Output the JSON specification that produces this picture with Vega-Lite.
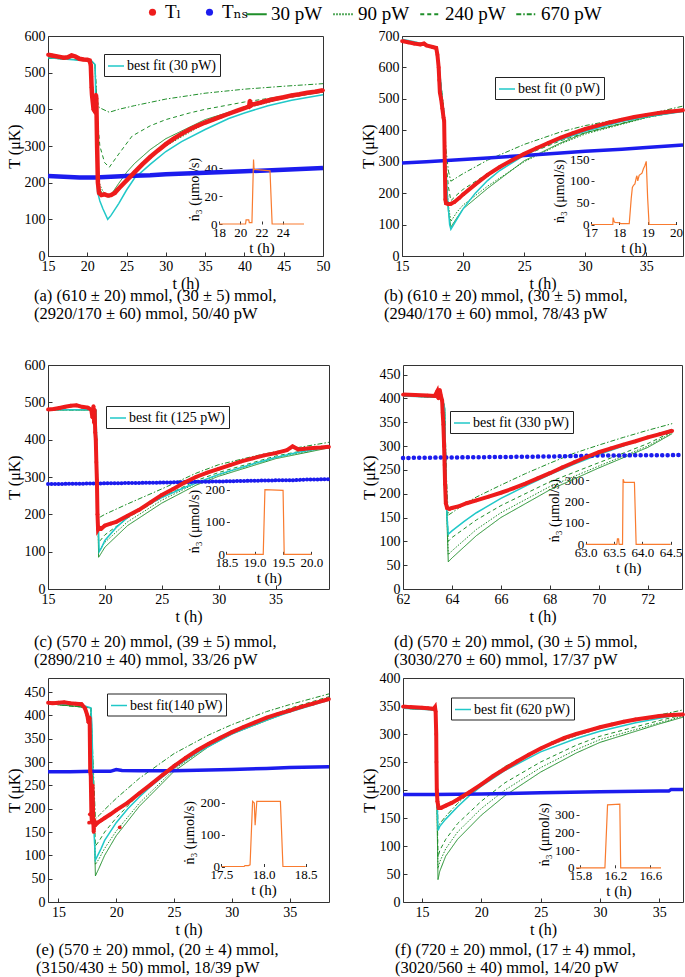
{
"$schema": "https://vega.github.io/schema/vega-lite/v6.json",
"padding": {"left": 5, "top": 2, "right": 0, "bottom": 0},
"config": {
 "font": "Liberation Serif, DejaVu Serif, serif",
 "view": {"stroke": "#333", "strokeWidth": 1},
 "axis": {"grid": false, "domain": false, "tickSize": -4, "tickColor": "#333", "labelPadding": 7, "labelFontSize": 14, "labelColor": "black", "labelFlush": false, "labelOverlap": false, "titleFontSize": 16, "titleFontWeight": "normal", "titleColor": "black", "titlePadding": 2, "labelFont": "Liberation Serif, DejaVu Serif, serif", "titleFont": "Liberation Serif, DejaVu Serif, serif"},
 "title": {"font": "Liberation Serif, DejaVu Serif, serif", "fontSize": 16.5, "fontWeight": "normal", "color": "black", "lineHeight": 18},
 "legend": {"labelFont": "Liberation Serif, DejaVu Serif, serif"}
},
"datasets": {
"a": [
{"s":"L","t":15,"T":549},{"s":"L","t":15.5,"T":547},{"s":"L","t":16,"T":545},{"s":"L","t":16.5,"T":543},{"s":"L","t":17,"T":541},{"s":"L","t":17.5,"T":542},{"s":"L","t":18,"T":547},{"s":"L","t":18.5,"T":544},{"s":"L","t":19,"T":538},{"s":"L","t":19.5,"T":536},{"s":"L","t":20,"T":535},{"s":"L","t":20.3,"T":533},{"s":"L","t":20.45,"T":520},{"s":"L","t":20.5,"T":490},{"s":"L","t":20.55,"T":460},{"s":"L","t":20.6,"T":440},{"s":"L","t":20.7,"T":420},{"s":"L","t":20.8,"T":400},{"s":"L","t":20.95,"T":395},{"s":"L","t":21.05,"T":400},{"s":"L","t":21.1,"T":440},{"s":"L","t":21.15,"T":430},{"s":"L","t":21.25,"T":300},{"s":"L","t":21.35,"T":200},{"s":"L","t":21.5,"T":172},{"s":"L","t":21.8,"T":166},{"s":"L","t":22.2,"T":168},{"s":"L","t":22.6,"T":165},{"s":"L","t":23,"T":166},{"s":"L","t":23.5,"T":172},{"s":"L","t":24,"T":184},{"s":"L","t":25,"T":206},{"s":"L","t":26,"T":228},{"s":"L","t":27,"T":250},{"s":"L","t":28,"T":270},{"s":"L","t":29,"T":288},{"s":"L","t":30,"T":305},{"s":"L","t":31,"T":320},{"s":"L","t":32,"T":333},{"s":"L","t":33,"T":345},{"s":"L","t":34,"T":355},{"s":"L","t":35,"T":364},{"s":"L","t":36,"T":372},{"s":"L","t":37,"T":380},{"s":"L","t":38,"T":388},{"s":"L","t":39,"T":396},{"s":"L","t":40,"T":403},{"s":"L","t":40.6,"T":408},{"s":"L","t":40.7,"T":424},{"s":"L","t":40.8,"T":410},{"s":"L","t":41,"T":413},{"s":"L","t":42,"T":418},{"s":"L","t":43,"T":424},{"s":"L","t":44,"T":429},{"s":"L","t":45,"T":433},{"s":"L","t":46,"T":438},{"s":"L","t":47,"T":441},{"s":"L","t":48,"T":445},{"s":"L","t":49,"T":448},{"s":"L","t":50,"T":452},
{"s":"NS","t":15,"T":218},{"s":"NS","t":17,"T":216},{"s":"NS","t":19,"T":214},{"s":"NS","t":21,"T":214},{"s":"NS","t":23,"T":216},{"s":"NS","t":25,"T":218},{"s":"NS","t":28,"T":220},{"s":"NS","t":30,"T":223},{"s":"NS","t":35,"T":227},{"s":"NS","t":40,"T":231},{"s":"NS","t":45,"T":235},{"s":"NS","t":50,"T":240},
{"s":"fit","t":15,"T":541},{"s":"fit","t":17,"T":537},{"s":"fit","t":19,"T":534},{"s":"fit","t":20.5,"T":533},{"s":"fit","t":21,"T":522},{"s":"fit","t":21.15,"T":330},{"s":"fit","t":21.3,"T":175},{"s":"fit","t":21.6,"T":150},{"s":"fit","t":22,"T":128},{"s":"fit","t":22.6,"T":100},{"s":"fit","t":23,"T":110},{"s":"fit","t":24,"T":143},{"s":"fit","t":25,"T":180},{"s":"fit","t":26,"T":212},{"s":"fit","t":28,"T":250},{"s":"fit","t":30,"T":285},{"s":"fit","t":32,"T":312},{"s":"fit","t":35,"T":345},{"s":"fit","t":38,"T":375},{"s":"fit","t":40,"T":390},{"s":"fit","t":43,"T":410},{"s":"fit","t":46,"T":425},{"s":"fit","t":50,"T":440},
{"s":"30","t":15,"T":540},{"s":"30","t":20.5,"T":533},{"s":"30","t":21,"T":520},{"s":"30","t":21.2,"T":330},{"s":"30","t":21.5,"T":185},{"s":"30","t":22,"T":168},{"s":"30","t":22.8,"T":160},{"s":"30","t":24,"T":198},{"s":"30","t":25,"T":228},{"s":"30","t":26,"T":252},{"s":"30","t":28,"T":290},{"s":"30","t":30,"T":320},{"s":"30","t":35,"T":372},{"s":"30","t":40,"T":405},{"s":"30","t":45,"T":430},{"s":"30","t":50,"T":447},
{"s":"90","t":15,"T":540},{"s":"90","t":20.5,"T":533},{"s":"90","t":21,"T":520},{"s":"90","t":21.2,"T":340},{"s":"90","t":21.5,"T":200},{"s":"90","t":22,"T":175},{"s":"90","t":22.8,"T":165},{"s":"90","t":24,"T":190},{"s":"90","t":25,"T":212},{"s":"90","t":26,"T":232},{"s":"90","t":28,"T":268},{"s":"90","t":30,"T":300},{"s":"90","t":35,"T":362},{"s":"90","t":40,"T":402},{"s":"90","t":45,"T":430},{"s":"90","t":50,"T":448},
{"s":"240","t":15,"T":540},{"s":"240","t":20.5,"T":533},{"s":"240","t":21,"T":520},{"s":"240","t":21.2,"T":400},{"s":"240","t":21.6,"T":300},{"s":"240","t":22.2,"T":255},{"s":"240","t":22.8,"T":242},{"s":"240","t":24,"T":278},{"s":"240","t":25.7,"T":327},{"s":"240","t":28,"T":355},{"s":"240","t":30,"T":372},{"s":"240","t":33,"T":390},{"s":"240","t":35,"T":400},{"s":"240","t":40,"T":420},{"s":"240","t":45,"T":436},{"s":"240","t":50,"T":450},
{"s":"670","t":15,"T":540},{"s":"670","t":20.5,"T":533},{"s":"670","t":21,"T":520},{"s":"670","t":21.2,"T":430},{"s":"670","t":21.5,"T":405},{"s":"670","t":22,"T":400},{"s":"670","t":22.8,"T":392},{"s":"670","t":24,"T":400},{"s":"670","t":26,"T":410},{"s":"670","t":30,"T":428},{"s":"670","t":35,"T":444},{"s":"670","t":40,"T":455},{"s":"670","t":45,"T":463},{"s":"670","t":50,"T":470},
{"s":"n","t":18,"T":0},{"s":"n","t":20.5,"T":0},{"s":"n","t":20.55,"T":3},{"s":"n","t":20.8,"T":3},{"s":"n","t":20.85,"T":1},{"s":"n","t":21.1,"T":1},{"s":"n","t":21.25,"T":46},{"s":"n","t":21.3,"T":39},{"s":"n","t":22.8,"T":38},{"s":"n","t":23,"T":0},{"s":"n","t":26,"T":0}
],
"b": [
{"s":"L","t":15,"T":684},{"s":"L","t":15.5,"T":680},{"s":"L","t":16,"T":676},{"s":"L","t":16.5,"T":673},{"s":"L","t":16.8,"T":676},{"s":"L","t":17,"T":670},{"s":"L","t":17.5,"T":665},{"s":"L","t":17.8,"T":662},{"s":"L","t":17.9,"T":640},{"s":"L","t":18,"T":600},{"s":"L","t":18.05,"T":560},{"s":"L","t":18.1,"T":520},{"s":"L","t":18.2,"T":500},{"s":"L","t":18.3,"T":470},{"s":"L","t":18.4,"T":440},{"s":"L","t":18.45,"T":430},{"s":"L","t":18.5,"T":300},{"s":"L","t":18.55,"T":180},{"s":"L","t":18.6,"T":168},{"s":"L","t":18.8,"T":165},{"s":"L","t":19,"T":166},{"s":"L","t":19.3,"T":172},{"s":"L","t":19.7,"T":185},{"s":"L","t":20,"T":196},{"s":"L","t":21,"T":228},{"s":"L","t":22,"T":258},{"s":"L","t":23,"T":283},{"s":"L","t":24,"T":305},{"s":"L","t":25,"T":325},{"s":"L","t":26,"T":343},{"s":"L","t":27,"T":360},{"s":"L","t":28,"T":377},{"s":"L","t":29,"T":391},{"s":"L","t":30,"T":404},{"s":"L","t":31,"T":415},{"s":"L","t":32,"T":425},{"s":"L","t":33,"T":434},{"s":"L","t":34,"T":442},{"s":"L","t":35,"T":449},{"s":"L","t":36,"T":455},{"s":"L","t":37,"T":460},{"s":"L","t":38,"T":464},
{"s":"NS","t":15,"T":296},{"s":"NS","t":17,"T":300},{"s":"NS","t":20,"T":307},{"s":"NS","t":22,"T":312},{"s":"NS","t":25,"T":320},{"s":"NS","t":28,"T":328},{"s":"NS","t":30,"T":333},{"s":"NS","t":33,"T":340},{"s":"NS","t":35,"T":345},{"s":"NS","t":38,"T":353},
{"s":"fit","t":15,"T":690},{"s":"fit","t":16,"T":682},{"s":"fit","t":17,"T":672},{"s":"fit","t":17.8,"T":665},{"s":"fit","t":18,"T":620},{"s":"fit","t":18.2,"T":540},{"s":"fit","t":18.3,"T":485},{"s":"fit","t":18.4,"T":470},{"s":"fit","t":18.5,"T":350},{"s":"fit","t":18.7,"T":200},{"s":"fit","t":18.9,"T":100},{"s":"fit","t":19,"T":85},{"s":"fit","t":19.3,"T":105},{"s":"fit","t":20,"T":150},{"s":"fit","t":21,"T":200},{"s":"fit","t":22,"T":240},{"s":"fit","t":23,"T":272},{"s":"fit","t":25,"T":320},{"s":"fit","t":27,"T":357},{"s":"fit","t":30,"T":397},{"s":"fit","t":33,"T":428},{"s":"fit","t":35,"T":443},{"s":"fit","t":38,"T":460},
{"s":"670","t":15,"T":688},{"s":"670","t":17.8,"T":662},{"s":"670","t":18.2,"T":540},{"s":"670","t":18.4,"T":470},{"s":"670","t":18.6,"T":340},{"s":"670","t":18.8,"T":270},{"s":"670","t":19,"T":238},{"s":"670","t":19.5,"T":250},{"s":"670","t":20,"T":262},{"s":"670","t":22,"T":305},{"s":"670","t":25,"T":355},{"s":"670","t":28,"T":395},{"s":"670","t":30,"T":415},{"s":"670","t":33,"T":437},{"s":"670","t":35,"T":450},{"s":"670","t":38,"T":477},
{"s":"240","t":15,"T":688},{"s":"240","t":17.8,"T":662},{"s":"240","t":18.2,"T":540},{"s":"240","t":18.4,"T":470},{"s":"240","t":18.6,"T":300},{"s":"240","t":18.8,"T":220},{"s":"240","t":19,"T":176},{"s":"240","t":19.5,"T":195},{"s":"240","t":20,"T":212},{"s":"240","t":22,"T":262},{"s":"240","t":25,"T":320},{"s":"240","t":28,"T":367},{"s":"240","t":30,"T":392},{"s":"240","t":35,"T":442},{"s":"240","t":38,"T":467},
{"s":"90","t":15,"T":688},{"s":"90","t":17.8,"T":662},{"s":"90","t":18.2,"T":540},{"s":"90","t":18.4,"T":470},{"s":"90","t":18.6,"T":260},{"s":"90","t":18.8,"T":160},{"s":"90","t":19,"T":110},{"s":"90","t":19.5,"T":140},{"s":"90","t":20,"T":162},{"s":"90","t":22,"T":222},{"s":"90","t":25,"T":300},{"s":"90","t":28,"T":357},{"s":"90","t":30,"T":388},{"s":"90","t":35,"T":440},{"s":"90","t":38,"T":463},
{"s":"30","t":15,"T":688},{"s":"30","t":17.8,"T":662},{"s":"30","t":18.2,"T":540},{"s":"30","t":18.4,"T":470},{"s":"30","t":18.6,"T":240},{"s":"30","t":18.8,"T":140},{"s":"30","t":19,"T":92},{"s":"30","t":19.5,"T":122},{"s":"30","t":20,"T":150},{"s":"30","t":22,"T":215},{"s":"30","t":25,"T":303},{"s":"30","t":28,"T":360},{"s":"30","t":30,"T":392},{"s":"30","t":35,"T":441},{"s":"30","t":38,"T":461},
{"s":"n","t":17,"T":0},{"s":"n","t":17.77,"T":0},{"s":"n","t":17.78,"T":16},{"s":"n","t":17.82,"T":6},{"s":"n","t":17.85,"T":5},{"s":"n","t":18,"T":4},{"s":"n","t":18.05,"T":2},{"s":"n","t":18.35,"T":2},{"s":"n","t":18.42,"T":60},{"s":"n","t":18.46,"T":85},{"s":"n","t":18.5,"T":90},{"s":"n","t":18.55,"T":93},{"s":"n","t":18.6,"T":108},{"s":"n","t":18.62,"T":112},{"s":"n","t":18.65,"T":100},{"s":"n","t":18.7,"T":113},{"s":"n","t":18.8,"T":118},{"s":"n","t":18.85,"T":128},{"s":"n","t":18.9,"T":135},{"s":"n","t":18.95,"T":145},{"s":"n","t":19,"T":60},{"s":"n","t":19.05,"T":0},{"s":"n","t":20,"T":0}
],
"c": [
{"s":"L","t":15,"T":481},{"s":"L","t":15.5,"T":482},{"s":"L","t":16,"T":485},{"s":"L","t":16.5,"T":488},{"s":"L","t":17,"T":491},{"s":"L","t":17.5,"T":492},{"s":"L","t":18,"T":488},{"s":"L","t":18.5,"T":486},{"s":"L","t":18.8,"T":480},{"s":"L","t":18.9,"T":460},{"s":"L","t":19,"T":490},{"s":"L","t":19.05,"T":445},{"s":"L","t":19.1,"T":480},{"s":"L","t":19.15,"T":420},{"s":"L","t":19.2,"T":400},{"s":"L","t":19.25,"T":340},{"s":"L","t":19.3,"T":290},{"s":"L","t":19.35,"T":200},{"s":"L","t":19.4,"T":160},{"s":"L","t":19.5,"T":165},{"s":"L","t":19.7,"T":162},{"s":"L","t":20,"T":170},{"s":"L","t":20.5,"T":175},{"s":"L","t":21,"T":180},{"s":"L","t":22,"T":196},{"s":"L","t":23,"T":212},{"s":"L","t":24,"T":232},{"s":"L","t":25,"T":252},{"s":"L","t":26,"T":268},{"s":"L","t":27,"T":285},{"s":"L","t":28,"T":300},{"s":"L","t":29,"T":312},{"s":"L","t":30,"T":322},{"s":"L","t":31,"T":332},{"s":"L","t":32,"T":342},{"s":"L","t":33,"T":350},{"s":"L","t":34,"T":358},{"s":"L","t":35,"T":364},{"s":"L","t":36,"T":372},{"s":"L","t":36.5,"T":382},{"s":"L","t":37,"T":374},{"s":"L","t":38,"T":377},{"s":"L","t":39,"T":379},{"s":"L","t":39.7,"T":381},
{"s":"NS","t":15,"T":281},{"s":"NS","t":20,"T":283},{"s":"NS","t":25,"T":285},{"s":"NS","t":28,"T":287},{"s":"NS","t":30,"T":288},{"s":"NS","t":33,"T":290},{"s":"NS","t":35,"T":291},{"s":"NS","t":36.5,"T":291},{"s":"NS","t":37.5,"T":293},{"s":"NS","t":39.7,"T":294},
{"s":"fit","t":15,"T":480},{"s":"fit","t":19.2,"T":480},{"s":"fit","t":19.3,"T":380},{"s":"fit","t":19.4,"T":200},{"s":"fit","t":19.5,"T":100},{"s":"fit","t":19.7,"T":110},{"s":"fit","t":20,"T":130},{"s":"fit","t":21,"T":165},{"s":"fit","t":22,"T":192},{"s":"fit","t":23,"T":213},{"s":"fit","t":25,"T":245},{"s":"fit","t":27,"T":272},{"s":"fit","t":30,"T":307},{"s":"fit","t":33,"T":335},{"s":"fit","t":35,"T":352},{"s":"fit","t":37,"T":366},{"s":"fit","t":39.7,"T":380},
{"s":"670","t":15,"T":480},{"s":"670","t":19.2,"T":480},{"s":"670","t":19.3,"T":380},{"s":"670","t":19.45,"T":190},{"s":"670","t":19.6,"T":193},{"s":"670","t":20,"T":200},{"s":"670","t":22,"T":228},{"s":"670","t":25,"T":268},{"s":"670","t":28,"T":310},{"s":"670","t":30,"T":333},{"s":"670","t":33,"T":355},{"s":"670","t":35,"T":368},{"s":"670","t":37,"T":379},{"s":"670","t":39.7,"T":393},
{"s":"240","t":15,"T":480},{"s":"240","t":19.2,"T":480},{"s":"240","t":19.3,"T":350},{"s":"240","t":19.45,"T":125},{"s":"240","t":19.6,"T":130},{"s":"240","t":20,"T":145},{"s":"240","t":22,"T":190},{"s":"240","t":25,"T":245},{"s":"240","t":28,"T":290},{"s":"240","t":30,"T":312},{"s":"240","t":35,"T":356},{"s":"240","t":39.7,"T":384},
{"s":"90","t":15,"T":480},{"s":"90","t":19.2,"T":480},{"s":"90","t":19.3,"T":340},{"s":"90","t":19.45,"T":100},{"s":"90","t":19.6,"T":107},{"s":"90","t":20,"T":125},{"s":"90","t":22,"T":180},{"s":"90","t":25,"T":238},{"s":"90","t":28,"T":283},{"s":"90","t":30,"T":306},{"s":"90","t":35,"T":352},{"s":"90","t":39.7,"T":381},
{"s":"30","t":15,"T":480},{"s":"30","t":19.2,"T":480},{"s":"30","t":19.3,"T":330},{"s":"30","t":19.45,"T":85},{"s":"30","t":19.6,"T":92},{"s":"30","t":20,"T":112},{"s":"30","t":22,"T":170},{"s":"30","t":25,"T":230},{"s":"30","t":28,"T":278},{"s":"30","t":30,"T":302},{"s":"30","t":35,"T":349},{"s":"30","t":39.7,"T":378},
{"s":"n","t":18.5,"T":0},{"s":"n","t":19.15,"T":0},{"s":"n","t":19.18,"T":200},{"s":"n","t":19.5,"T":198},{"s":"n","t":19.52,"T":0},{"s":"n","t":20,"T":0}
],
"d": [
{"s":"L","t":62,"T":408},{"s":"L","t":62.5,"T":407},{"s":"L","t":63,"T":406},{"s":"L","t":63.3,"T":405},{"s":"L","t":63.4,"T":415},{"s":"L","t":63.45,"T":400},{"s":"L","t":63.5,"T":418},{"s":"L","t":63.55,"T":405},{"s":"L","t":63.6,"T":395},{"s":"L","t":63.62,"T":370},{"s":"L","t":63.65,"T":345},{"s":"L","t":63.68,"T":300},{"s":"L","t":63.7,"T":260},{"s":"L","t":63.72,"T":220},{"s":"L","t":63.75,"T":180},{"s":"L","t":63.8,"T":170},{"s":"L","t":63.9,"T":168},{"s":"L","t":64,"T":170},{"s":"L","t":64.3,"T":174},{"s":"L","t":64.6,"T":180},{"s":"L","t":65,"T":186},{"s":"L","t":65.5,"T":194},{"s":"L","t":66,"T":202},{"s":"L","t":66.5,"T":211},{"s":"L","t":67,"T":221},{"s":"L","t":67.5,"T":232},{"s":"L","t":68,"T":243},{"s":"L","t":68.5,"T":255},{"s":"L","t":69,"T":266},{"s":"L","t":69.5,"T":277},{"s":"L","t":70,"T":287},{"s":"L","t":70.5,"T":295},{"s":"L","t":71,"T":303},{"s":"L","t":71.5,"T":310},{"s":"L","t":72,"T":318},{"s":"L","t":72.5,"T":325},{"s":"L","t":73,"T":332},
{"s":"NS","t":62,"T":275},{"s":"NS","t":64,"T":276},{"s":"NS","t":66,"T":277},{"s":"NS","t":68,"T":278},{"s":"NS","t":70,"T":280},{"s":"NS","t":73.3,"T":281},
{"s":"fit","t":62,"T":405},{"s":"fit","t":63.6,"T":402},{"s":"fit","t":63.7,"T":380},{"s":"fit","t":63.75,"T":250},{"s":"fit","t":63.8,"T":150},{"s":"fit","t":63.85,"T":115},{"s":"fit","t":64,"T":122},{"s":"fit","t":64.5,"T":142},{"s":"fit","t":65,"T":160},{"s":"fit","t":66,"T":190},{"s":"fit","t":67,"T":216},{"s":"fit","t":68,"T":240},{"s":"fit","t":69,"T":262},{"s":"fit","t":70,"T":282},{"s":"fit","t":71,"T":300},{"s":"fit","t":72,"T":318},{"s":"fit","t":73,"T":335},
{"s":"670","t":62,"T":405},{"s":"670","t":63.6,"T":402},{"s":"670","t":63.7,"T":380},{"s":"670","t":63.78,"T":230},{"s":"670","t":63.85,"T":155},{"s":"670","t":64,"T":160},{"s":"670","t":64.5,"T":178},{"s":"670","t":65,"T":193},{"s":"670","t":66,"T":218},{"s":"670","t":67,"T":242},{"s":"670","t":68,"T":264},{"s":"670","t":69,"T":285},{"s":"670","t":70,"T":302},{"s":"670","t":71,"T":318},{"s":"670","t":72,"T":333},{"s":"670","t":73,"T":347},
{"s":"240","t":62,"T":405},{"s":"240","t":63.6,"T":402},{"s":"240","t":63.7,"T":380},{"s":"240","t":63.78,"T":200},{"s":"240","t":63.85,"T":100},{"s":"240","t":64,"T":108},{"s":"240","t":65,"T":145},{"s":"240","t":66,"T":175},{"s":"240","t":68,"T":225},{"s":"240","t":70,"T":265},{"s":"240","t":72,"T":305},{"s":"240","t":73,"T":330},
{"s":"90","t":62,"T":405},{"s":"90","t":63.6,"T":402},{"s":"90","t":63.7,"T":380},{"s":"90","t":63.78,"T":180},{"s":"90","t":63.85,"T":72},{"s":"90","t":64,"T":80},{"s":"90","t":65,"T":125},{"s":"90","t":66,"T":160},{"s":"90","t":68,"T":215},{"s":"90","t":70,"T":258},{"s":"90","t":72,"T":300},{"s":"90","t":73,"T":328},
{"s":"30","t":62,"T":405},{"s":"30","t":63.6,"T":402},{"s":"30","t":63.7,"T":380},{"s":"30","t":63.78,"T":170},{"s":"30","t":63.85,"T":57},{"s":"30","t":64,"T":65},{"s":"30","t":65,"T":112},{"s":"30","t":66,"T":150},{"s":"30","t":68,"T":208},{"s":"30","t":70,"T":254},{"s":"30","t":72,"T":297},{"s":"30","t":73,"T":326},
{"s":"n","t":63,"T":0},{"s":"n","t":63.55,"T":0},{"s":"n","t":63.56,"T":25},{"s":"n","t":63.58,"T":25},{"s":"n","t":63.59,"T":0},{"s":"n","t":63.65,"T":0},{"s":"n","t":63.66,"T":305},{"s":"n","t":63.68,"T":290},{"s":"n","t":63.86,"T":290},{"s":"n","t":63.89,"T":0},{"s":"n","t":64.5,"T":0}
],
"e": [
{"s":"L","t":14.1,"T":427},{"s":"L","t":14.5,"T":426},{"s":"L","t":15,"T":427},{"s":"L","t":15.5,"T":428},{"s":"L","t":16,"T":426},{"s":"L","t":16.5,"T":425},{"s":"L","t":17,"T":424},{"s":"L","t":17.3,"T":415},{"s":"L","t":17.5,"T":400},{"s":"L","t":17.6,"T":385},{"s":"L","t":17.7,"T":395},{"s":"L","t":17.75,"T":280},{"s":"L","t":17.8,"T":270},{"s":"L","t":17.85,"T":190},{"s":"L","t":17.9,"T":170},{"s":"L","t":17.95,"T":250},{"s":"L","t":18,"T":190},{"s":"L","t":18.05,"T":150},{"s":"L","t":18.1,"T":175},{"s":"L","t":18.2,"T":165},{"s":"L","t":18.4,"T":170},{"s":"L","t":18.7,"T":175},{"s":"L","t":19,"T":180},{"s":"L","t":19.5,"T":188},{"s":"L","t":20,"T":197},{"s":"L","t":21,"T":213},{"s":"L","t":22,"T":233},{"s":"L","t":23,"T":252},{"s":"L","t":24,"T":272},{"s":"L","t":25,"T":291},{"s":"L","t":26,"T":309},{"s":"L","t":27,"T":325},{"s":"L","t":28,"T":339},{"s":"L","t":29,"T":352},{"s":"L","t":30,"T":364},{"s":"L","t":31,"T":375},{"s":"L","t":32,"T":385},{"s":"L","t":33,"T":395},{"s":"L","t":34,"T":403},{"s":"L","t":35,"T":410},{"s":"L","t":36,"T":418},{"s":"L","t":37,"T":425},{"s":"L","t":38,"T":432},{"s":"L","t":38.4,"T":435},
{"s":"L","o":1,"t":20.3,"T":160},{"s":"L","o":1,"t":17.72,"T":188},{"s":"L","o":1,"t":17.65,"T":170},
{"s":"NS","t":14.1,"T":279},{"s":"NS","t":16,"T":279},{"s":"NS","t":18,"T":280},{"s":"NS","t":19.5,"T":280},{"s":"NS","t":20,"T":284},{"s":"NS","t":20.5,"T":282},{"s":"NS","t":22,"T":281},{"s":"NS","t":25,"T":281},{"s":"NS","t":28,"T":283},{"s":"NS","t":30,"T":284},{"s":"NS","t":33,"T":286},{"s":"NS","t":35,"T":288},{"s":"NS","t":38.4,"T":290},
{"s":"fit","t":14.1,"T":425},{"s":"fit","t":16,"T":424},{"s":"fit","t":17,"T":422},{"s":"fit","t":17.8,"T":416},{"s":"fit","t":17.9,"T":380},{"s":"fit","t":18,"T":250},{"s":"fit","t":18.1,"T":140},{"s":"fit","t":18.2,"T":90},{"s":"fit","t":18.4,"T":100},{"s":"fit","t":18.7,"T":115},{"s":"fit","t":19,"T":132},{"s":"fit","t":20,"T":170},{"s":"fit","t":21,"T":200},{"s":"fit","t":22,"T":225},{"s":"fit","t":23,"T":248},{"s":"fit","t":25,"T":288},{"s":"fit","t":27,"T":320},{"s":"fit","t":30,"T":360},{"s":"fit","t":33,"T":390},{"s":"fit","t":35,"T":407},{"s":"fit","t":38.4,"T":433},
{"s":"670","t":14.1,"T":425},{"s":"670","t":17.8,"T":416},{"s":"670","t":18,"T":300},{"s":"670","t":18.2,"T":178},{"s":"670","t":18.5,"T":185},{"s":"670","t":19,"T":198},{"s":"670","t":20,"T":222},{"s":"670","t":22,"T":265},{"s":"670","t":25,"T":318},{"s":"670","t":28,"T":358},{"s":"670","t":30,"T":380},{"s":"670","t":33,"T":408},{"s":"670","t":35,"T":423},{"s":"670","t":38.4,"T":446},
{"s":"240","t":14.1,"T":425},{"s":"240","t":17.8,"T":416},{"s":"240","t":18,"T":280},{"s":"240","t":18.2,"T":120},{"s":"240","t":18.5,"T":130},{"s":"240","t":19,"T":150},{"s":"240","t":20,"T":180},{"s":"240","t":22,"T":232},{"s":"240","t":25,"T":295},{"s":"240","t":28,"T":342},{"s":"240","t":30,"T":367},{"s":"240","t":35,"T":415},{"s":"240","t":38.4,"T":440},
{"s":"90","t":14.1,"T":425},{"s":"90","t":17.8,"T":416},{"s":"90","t":18,"T":270},{"s":"90","t":18.2,"T":80},{"s":"90","t":18.5,"T":92},{"s":"90","t":19,"T":115},{"s":"90","t":20,"T":152},{"s":"90","t":22,"T":212},{"s":"90","t":25,"T":284},{"s":"90","t":28,"T":336},{"s":"90","t":30,"T":362},{"s":"90","t":35,"T":411},{"s":"90","t":38.4,"T":437},
{"s":"30","t":14.1,"T":425},{"s":"30","t":17.8,"T":416},{"s":"30","t":18,"T":260},{"s":"30","t":18.2,"T":56},{"s":"30","t":18.5,"T":72},{"s":"30","t":19,"T":100},{"s":"30","t":20,"T":142},{"s":"30","t":22,"T":205},{"s":"30","t":25,"T":280},{"s":"30","t":28,"T":333},{"s":"30","t":30,"T":360},{"s":"30","t":35,"T":408},{"s":"30","t":38.4,"T":434},
{"s":"n","t":17.5,"T":0},{"s":"n","t":17.77,"T":0},{"s":"n","t":17.78,"T":3},{"s":"n","t":17.82,"T":3},{"s":"n","t":17.84,"T":5},{"s":"n","t":17.87,"T":205},{"s":"n","t":17.89,"T":200},{"s":"n","t":17.9,"T":130},{"s":"n","t":17.92,"T":205},{"s":"n","t":18.2,"T":205},{"s":"n","t":18.23,"T":0},{"s":"n","t":18.5,"T":0}
],
"f": [
{"s":"L","t":13.4,"T":349},{"s":"L","t":14,"T":348},{"s":"L","t":15,"T":347},{"s":"L","t":15.5,"T":346},{"s":"L","t":16,"T":345},{"s":"L","t":16.1,"T":348},{"s":"L","t":16.15,"T":340},{"s":"L","t":16.2,"T":300},{"s":"L","t":16.22,"T":250},{"s":"L","t":16.25,"T":200},{"s":"L","t":16.3,"T":180},{"s":"L","t":16.4,"T":168},{"s":"L","t":16.6,"T":168},{"s":"L","t":17,"T":172},{"s":"L","t":17.5,"T":177},{"s":"L","t":18,"T":183},{"s":"L","t":19,"T":196},{"s":"L","t":20,"T":210},{"s":"L","t":21,"T":225},{"s":"L","t":22,"T":238},{"s":"L","t":23,"T":251},{"s":"L","t":24,"T":263},{"s":"L","t":25,"T":274},{"s":"L","t":26,"T":284},{"s":"L","t":27,"T":293},{"s":"L","t":28,"T":300},{"s":"L","t":29,"T":306},{"s":"L","t":30,"T":312},{"s":"L","t":31,"T":317},{"s":"L","t":32,"T":322},{"s":"L","t":33,"T":326},{"s":"L","t":34,"T":329},{"s":"L","t":35,"T":332},{"s":"L","t":36,"T":334},{"s":"L","t":37,"T":335},
{"s":"NS","t":13.4,"T":192},{"s":"NS","t":16,"T":192},{"s":"NS","t":20,"T":193},{"s":"NS","t":25,"T":195},{"s":"NS","t":30,"T":197},{"s":"NS","t":35,"T":198},{"s":"NS","t":35.8,"T":198},{"s":"NS","t":36,"T":201},{"s":"NS","t":37,"T":201},
{"s":"fit","t":13.4,"T":346},{"s":"fit","t":16.1,"T":343},{"s":"fit","t":16.2,"T":300},{"s":"fit","t":16.3,"T":160},{"s":"fit","t":16.35,"T":128},{"s":"fit","t":16.5,"T":135},{"s":"fit","t":17,"T":148},{"s":"fit","t":18,"T":170},{"s":"fit","t":19,"T":190},{"s":"fit","t":20,"T":207},{"s":"fit","t":22,"T":235},{"s":"fit","t":25,"T":268},{"s":"fit","t":28,"T":292},{"s":"fit","t":30,"T":305},{"s":"fit","t":33,"T":320},{"s":"fit","t":35,"T":328},{"s":"fit","t":37,"T":336},
{"s":"670","t":13.4,"T":346},{"s":"670","t":16.1,"T":343},{"s":"670","t":16.2,"T":300},{"s":"670","t":16.35,"T":132},{"s":"670","t":16.5,"T":140},{"s":"670","t":17,"T":153},{"s":"670","t":18,"T":176},{"s":"670","t":19,"T":195},{"s":"670","t":20,"T":212},{"s":"670","t":22,"T":242},{"s":"670","t":25,"T":274},{"s":"670","t":28,"T":297},{"s":"670","t":30,"T":310},{"s":"670","t":33,"T":326},{"s":"670","t":35,"T":334},{"s":"670","t":37,"T":343},
{"s":"240","t":13.4,"T":346},{"s":"240","t":16.1,"T":343},{"s":"240","t":16.2,"T":280},{"s":"240","t":16.35,"T":80},{"s":"240","t":16.5,"T":92},{"s":"240","t":17,"T":112},{"s":"240","t":18,"T":140},{"s":"240","t":20,"T":180},{"s":"240","t":22,"T":213},{"s":"240","t":25,"T":250},{"s":"240","t":28,"T":280},{"s":"240","t":30,"T":296},{"s":"240","t":35,"T":324},{"s":"240","t":37,"T":334},
{"s":"90","t":13.4,"T":346},{"s":"90","t":16.1,"T":343},{"s":"90","t":16.2,"T":270},{"s":"90","t":16.35,"T":60},{"s":"90","t":16.5,"T":72},{"s":"90","t":17,"T":95},{"s":"90","t":18,"T":125},{"s":"90","t":20,"T":167},{"s":"90","t":22,"T":200},{"s":"90","t":25,"T":240},{"s":"90","t":28,"T":272},{"s":"90","t":30,"T":290},{"s":"90","t":35,"T":320},{"s":"90","t":37,"T":332},
{"s":"30","t":13.4,"T":346},{"s":"30","t":16.1,"T":343},{"s":"30","t":16.2,"T":260},{"s":"30","t":16.35,"T":40},{"s":"30","t":16.5,"T":55},{"s":"30","t":17,"T":82},{"s":"30","t":18,"T":112},{"s":"30","t":20,"T":155},{"s":"30","t":22,"T":190},{"s":"30","t":25,"T":232},{"s":"30","t":28,"T":266},{"s":"30","t":30,"T":285},{"s":"30","t":35,"T":318},{"s":"30","t":37,"T":330},
{"s":"n","t":15.75,"T":0},{"s":"n","t":16.08,"T":0},{"s":"n","t":16.11,"T":355},{"s":"n","t":16.25,"T":360},{"s":"n","t":16.26,"T":0},{"s":"n","t":16.72,"T":0}
]
},
"spacing": 1,
"resolve": {"scale": {"stroke": "independent"}, "legend": {"stroke": "independent"}},
"vconcat": [
{"hconcat": [
{
 "width": 275, "height": 220,
 "title": {"text": ["(a) (610 ± 20) mmol, (30 ± 5) mmol,", "(2920/170 ± 60) mmol, 50/40 pW"], "subtitle": " ", "subtitleFontSize": 10, "subtitlePadding": 22.5, "orient": "bottom", "anchor": "start", "frame": "group", "dx": -14, "offset": -3},
 "data": {"name": "a"},
 "resolve": {"scale": {"x": "independent", "y": "independent"}},
 "layer": [
  {"encoding": {
    "x": {"field": "t", "type": "quantitative", "scale": {"domain": [15, 50], "nice": false, "zero": false}, "axis": {"values": [15,20,25,30,35,40,45,50], "title": "t (h)"}},
    "y": {"field": "T", "type": "quantitative", "scale": {"domain": [0, 600], "nice": false}, "axis": {"values": [0,100,200,300,400,500,600], "title": "T (μK)"}}},
   "layer": [
    {"transform": [{"filter": "datum.s == '30' || datum.s == '90' || datum.s == '240' || datum.s == '670'"}], "mark": {"type": "line", "strokeWidth": 1, "color": "#1f8f2a"}, "encoding": {"strokeDash": {"field": "s", "type": "nominal", "scale": {"domain": ["30","90","240","670"], "range": [[1,0],[1.5,1.5],[4,3],[5,2,1.5,2]]}, "legend": {"orient": "none", "legendX": 197, "legendY": -33.5, "direction": "horizontal", "columns": 4, "title": null, "labelFontSize": 19, "labelColor": "black", "labelOffset": 3, "symbolType": "stroke", "symbolSize": 420, "symbolStrokeWidth": 2, "symbolStrokeColor": "#1f8f2a", "columnPadding": 6, "labelExpr": "datum.value + ' pW'"}}}},
    {"transform": [{"filter": "datum.s == 'fit'"}], "mark": {"type": "line", "strokeWidth": 1.5}, "encoding": {"stroke": {"datum": "best fit (30 pW)", "type": "nominal", "scale": {"range": ["#20c8c8"]}, "legend": {"orient": "none", "legendX": 56, "legendY": 18, "title": null, "strokeColor": "#222", "fillColor": "white", "padding": 3, "symbolType": "stroke", "symbolSize": 256, "symbolStrokeWidth": 1.5, "labelFontSize": 14, "labelColor": "black", "labelOffset": 2}}}},
    {"transform": [{"filter": "datum.s == 'NS'"}], "mark": {"type": "line", "strokeWidth": 4.5, "color": "#1c1cee"}},
    {"transform": [{"filter": "datum.s == 'L' && !datum.o"}], "mark": {"type": "line", "strokeWidth": 4.5, "color": "#ee1c1c"}},
    {"transform": [{"filter": "datum.s == 'L'"}], "mark": {"type": "point", "filled": true, "size": 14, "opacity": 1}, "encoding": {"color": {"field": "s", "type": "nominal", "scale": {"domain": ["L","NS"], "range": ["#ee1c1c","#1c1cee"]}, "legend": {"orient": "none", "legendX": 95, "legendY": -33.5, "direction": "horizontal", "columns": 2, "title": null, "labelFontSize": 19, "labelColor": "black", "labelOffset": 3, "symbolType": "circle", "symbolSize": 50, "columnPadding": 18, "labelExpr": "datum.value == 'L' ? 'Tₗ' : 'Tₙₛ'"}}}}
   ]},
  {"encoding": {
    "x": {"field": "t", "type": "quantitative", "scale": {"domain": [18, 26], "range": [171, 256], "nice": false, "zero": false}, "axis": {"orient": "bottom", "offset": -32, "values": [18,20,22,24], "title": "t (h)", "labelFontSize": 13, "titleFontSize": 15, "tickSize": -3, "labelPadding": 5, "titlePadding": 1}},
    "y": {"field": "T", "type": "quantitative", "scale": {"domain": [0, 50], "range": [188, 118], "nice": false}, "axis": {"orient": "left", "offset": -171, "values": [0,20,40], "title": "ṅ₃ (μmol/s)", "labelFontSize": 13, "titleFontSize": 14, "tickSize": -3, "labelPadding": 5, "titlePadding": 3}}},
   "layer": [
    {"data": {"values": [{}]}, "mark": {"type": "rect", "fill": "white", "stroke": "#444", "strokeWidth": 1}, "encoding": {"x": {"datum": 18}, "x2": {"datum": 26}, "y": {"datum": 0}, "y2": {"datum": 50}}},
    {"transform": [{"filter": "datum.s == 'n'"}], "mark": {"type": "line", "color": "#f97b2f", "strokeWidth": 1.2}}
   ]}
 ]
},
{
 "width": 281, "height": 220,
 "title": {"text": ["(b) (610 ± 20) mmol, (30 ± 5) mmol,", "(2940/170 ± 60) mmol, 78/43 pW"], "subtitle": " ", "subtitleFontSize": 10, "subtitlePadding": 22.5, "orient": "bottom", "anchor": "start", "frame": "group", "dx": -18, "offset": -3},
 "data": {"name": "b"},
 "resolve": {"scale": {"x": "independent", "y": "independent"}},
 "layer": [
  {"encoding": {
    "x": {"field": "t", "type": "quantitative", "scale": {"domain": [15, 38], "nice": false, "zero": false}, "axis": {"values": [15,20,25,30,35], "title": "t (h)"}},
    "y": {"field": "T", "type": "quantitative", "scale": {"domain": [0, 700], "nice": false}, "axis": {"values": [0,100,200,300,400,500,600,700], "title": "T (μK)"}}},
   "layer": [
    {"transform": [{"filter": "datum.s == '30' || datum.s == '90' || datum.s == '240' || datum.s == '670'"}], "mark": {"type": "line", "strokeWidth": 1, "color": "#1f8f2a"}, "encoding": {"strokeDash": {"field": "s", "type": "nominal", "scale": {"domain": ["30","90","240","670"], "range": [[1,0],[1.5,1.5],[4,3],[5,2,1.5,2]]}}}},
    {"transform": [{"filter": "datum.s == 'fit'"}], "mark": {"type": "line", "strokeWidth": 1.5}, "encoding": {"stroke": {"datum": "best fit (0 pW)", "type": "nominal", "scale": {"range": ["#20c8c8"]}, "legend": {"orient": "none", "legendX": 93, "legendY": 41, "title": null, "strokeColor": "#222", "fillColor": "white", "padding": 3, "symbolType": "stroke", "symbolSize": 256, "symbolStrokeWidth": 1.5, "labelFontSize": 14, "labelColor": "black", "labelOffset": 2}}}},
    {"transform": [{"filter": "datum.s == 'NS'"}], "mark": {"type": "line", "strokeWidth": 3.5, "color": "#1c1cee"}},
    {"transform": [{"filter": "datum.s == 'L' && !datum.o"}], "mark": {"type": "line", "strokeWidth": 4, "color": "#ee1c1c"}},
    {"transform": [{"filter": "datum.s == 'L'"}], "mark": {"type": "point", "filled": true, "size": 14, "opacity": 1}, "encoding": {"color": {"field": "s", "type": "nominal", "scale": {"domain": ["L","NS"], "range": ["#ee1c1c","#1c1cee"]}}}}
   ]},
  {"encoding": {
    "x": {"field": "t", "type": "quantitative", "scale": {"domain": [17, 20], "range": [189, 274], "nice": false, "zero": false}, "axis": {"orient": "bottom", "offset": -31.5, "values": [17,18,19,20], "title": "t (h)", "labelFontSize": 13, "titleFontSize": 15, "tickSize": -3, "labelPadding": 5, "titlePadding": 1}},
    "y": {"field": "T", "type": "quantitative", "scale": {"domain": [0, 155], "range": [188.5, 121], "nice": false}, "axis": {"orient": "left", "offset": -189, "values": [0,50,100,150], "title": "ṅ₃ (μmol/s)", "labelFontSize": 13, "titleFontSize": 14, "tickSize": -3, "labelPadding": 5, "titlePadding": 3}}},
   "layer": [
    {"data": {"values": [{}]}, "mark": {"type": "rect", "fill": "white", "stroke": "#444", "strokeWidth": 1}, "encoding": {"x": {"datum": 17}, "x2": {"datum": 20}, "y": {"datum": 0}, "y2": {"datum": 155}}},
    {"transform": [{"filter": "datum.s == 'n'"}], "mark": {"type": "line", "color": "#f97b2f", "strokeWidth": 1.2}}
   ]}
 ]
}
], "spacing": 79, "bounds": "flush", "resolve": {"scale": {"stroke": "independent"}, "legend": {"stroke": "independent"}}},
{"hconcat": [
{
 "width": 281, "height": 224,
 "title": {"text": ["(c) (570 ± 20) mmol, (39 ± 5) mmol,", "(2890/210 ± 40) mmol, 33/26 pW"], "orient": "bottom", "anchor": "start", "frame": "group", "dx": -14, "offset": 10},
 "data": {"name": "c"},
 "resolve": {"scale": {"x": "independent", "y": "independent"}},
 "layer": [
  {"encoding": {
    "x": {"field": "t", "type": "quantitative", "scale": {"domain": [15, 39.7], "nice": false, "zero": false}, "axis": {"values": [15,20,25,30,35], "title": "t (h)"}},
    "y": {"field": "T", "type": "quantitative", "scale": {"domain": [0, 600], "nice": false}, "axis": {"values": [0,100,200,300,400,500,600], "title": "T (μK)"}}},
   "layer": [
    {"transform": [{"filter": "datum.s == '30' || datum.s == '90' || datum.s == '240' || datum.s == '670'"}], "mark": {"type": "line", "strokeWidth": 1, "color": "#1f8f2a"}, "encoding": {"strokeDash": {"field": "s", "type": "nominal", "scale": {"domain": ["30","90","240","670"], "range": [[1,0],[1.5,1.5],[4,3],[5,2,1.5,2]]}}}},
    {"transform": [{"filter": "datum.s == 'fit'"}], "mark": {"type": "line", "strokeWidth": 1.5}, "encoding": {"stroke": {"datum": "best fit (125 pW)", "type": "nominal", "scale": {"range": ["#20c8c8"]}, "legend": {"orient": "none", "legendX": 58, "legendY": 41, "title": null, "strokeColor": "#222", "fillColor": "white", "padding": 3, "symbolType": "stroke", "symbolSize": 256, "symbolStrokeWidth": 1.5, "labelFontSize": 14, "labelColor": "black", "labelOffset": 2}}}},
    {"transform": [{"filter": "datum.s == 'NS'"}], "mark": {"type": "line", "strokeWidth": 4, "strokeCap": "round", "strokeDash": [0.1, 3.4], "color": "#1c1cee"}},
    {"transform": [{"filter": "datum.s == 'L' && !datum.o"}], "mark": {"type": "line", "strokeWidth": 4, "color": "#ee1c1c"}},
    {"transform": [{"filter": "datum.s == 'L'"}], "mark": {"type": "point", "filled": true, "size": 14, "opacity": 1}, "encoding": {"color": {"field": "s", "type": "nominal", "scale": {"domain": ["L","NS"], "range": ["#ee1c1c","#1c1cee"]}}}}
   ]},
  {"encoding": {
    "x": {"field": "t", "type": "quantitative", "scale": {"domain": [18.5, 20], "range": [178.4, 263.4], "nice": false, "zero": false}, "axis": {"orient": "bottom", "offset": -34.7, "values": [18.5,19,19.5,20], "title": "t (h)", "labelFontSize": 13, "titleFontSize": 15, "tickSize": -3, "labelPadding": 5, "titlePadding": 1}},
    "y": {"field": "T", "type": "quantitative", "scale": {"domain": [0, 206], "range": [189.3, 122.7], "nice": false}, "axis": {"orient": "left", "offset": -178.4, "values": [0,100,200], "title": "ṅ₃ (μmol/s)", "labelFontSize": 13, "titleFontSize": 14, "tickSize": -3, "labelPadding": 5, "titlePadding": 3}}},
   "layer": [
    {"data": {"values": [{}]}, "mark": {"type": "rect", "fill": "white", "stroke": "#444", "strokeWidth": 1}, "encoding": {"x": {"datum": 18.5}, "x2": {"datum": 20}, "y": {"datum": 0}, "y2": {"datum": 206}}},
    {"transform": [{"filter": "datum.s == 'n'"}], "mark": {"type": "line", "color": "#f97b2f", "strokeWidth": 1.2}}
   ]}
 ]
},
{
 "width": 279, "height": 224,
 "title": {"text": ["(d) (570 ± 20) mmol, (30 ± 5) mmol,", "(3030/270 ± 60) mmol, 17/37 pW"], "orient": "bottom", "anchor": "start", "frame": "group", "dx": -9, "offset": 10},
 "data": {"name": "d"},
 "resolve": {"scale": {"x": "independent", "y": "independent"}},
 "layer": [
  {"encoding": {
    "x": {"field": "t", "type": "quantitative", "scale": {"domain": [62, 73.4], "nice": false, "zero": false}, "axis": {"values": [62,64,66,68,70,72], "title": "t (h)"}},
    "y": {"field": "T", "type": "quantitative", "scale": {"domain": [0, 470], "nice": false}, "axis": {"values": [0,50,100,150,200,250,300,350,400,450], "title": "T (μK)"}}},
   "layer": [
    {"transform": [{"filter": "datum.s == '30' || datum.s == '90' || datum.s == '240' || datum.s == '670'"}], "mark": {"type": "line", "strokeWidth": 1, "color": "#1f8f2a"}, "encoding": {"strokeDash": {"field": "s", "type": "nominal", "scale": {"domain": ["30","90","240","670"], "range": [[1,0],[1.5,1.5],[4,3],[5,2,1.5,2]]}}}},
    {"transform": [{"filter": "datum.s == 'fit'"}], "mark": {"type": "line", "strokeWidth": 1.5}, "encoding": {"stroke": {"datum": "best fit (330 pW)", "type": "nominal", "scale": {"range": ["#20c8c8"]}, "legend": {"orient": "none", "legendX": 47, "legendY": 46, "title": null, "strokeColor": "#222", "fillColor": "white", "padding": 3, "symbolType": "stroke", "symbolSize": 256, "symbolStrokeWidth": 1.5, "labelFontSize": 14, "labelColor": "black", "labelOffset": 2}}}},
    {"transform": [{"filter": "datum.s == 'NS'"}], "mark": {"type": "line", "strokeWidth": 4.5, "strokeCap": "round", "strokeDash": [0.1, 5.3], "color": "#1c1cee"}},
    {"transform": [{"filter": "datum.s == 'L' && !datum.o"}], "mark": {"type": "line", "strokeWidth": 4, "color": "#ee1c1c"}},
    {"transform": [{"filter": "datum.s == 'L'"}], "mark": {"type": "point", "filled": true, "size": 14, "opacity": 1}, "encoding": {"color": {"field": "s", "type": "nominal", "scale": {"domain": ["L","NS"], "range": ["#ee1c1c","#1c1cee"]}}}}
   ]},
  {"encoding": {
    "x": {"field": "t", "type": "quantitative", "scale": {"domain": [63, 64.5], "range": [182.7, 267.7], "nice": false, "zero": false}, "axis": {"orient": "bottom", "offset": -44.7, "values": [63,63.5,64,64.5], "title": "t (h)", "labelFontSize": 13, "titleFontSize": 15, "tickSize": -3, "labelPadding": 5, "titlePadding": 1}},
    "y": {"field": "T", "type": "quantitative", "scale": {"domain": [0, 320], "range": [179.3, 111], "nice": false}, "axis": {"orient": "left", "offset": -182.7, "values": [0,100,200,300], "title": "ṅ₃ (μmol/s)", "labelFontSize": 13, "titleFontSize": 14, "tickSize": -3, "labelPadding": 5, "titlePadding": 3}}},
   "layer": [
    {"data": {"values": [{}]}, "mark": {"type": "rect", "fill": "white", "stroke": "#444", "strokeWidth": 1}, "encoding": {"x": {"datum": 63}, "x2": {"datum": 64.5}, "y": {"datum": 0}, "y2": {"datum": 320}}},
    {"transform": [{"filter": "datum.s == 'n'"}], "mark": {"type": "line", "color": "#f97b2f", "strokeWidth": 1.2}}
   ]}
 ]
}
], "spacing": 74, "bounds": "flush", "resolve": {"scale": {"stroke": "independent"}, "legend": {"stroke": "independent"}}},
{"hconcat": [
{
 "width": 281, "height": 224,
 "title": {"text": ["(e) (570 ± 20) mmol, (20 ± 4) mmol,", "(3150/430 ± 50) mmol, 18/39 pW"], "orient": "bottom", "anchor": "start", "frame": "group", "dx": -12, "offset": 5},
 "data": {"name": "e"},
 "resolve": {"scale": {"x": "independent", "y": "independent"}},
 "layer": [
  {"encoding": {
    "x": {"field": "t", "type": "quantitative", "scale": {"domain": [14.1, 38.4], "nice": false, "zero": false}, "axis": {"values": [15,20,25,30,35], "title": "t (h)"}},
    "y": {"field": "T", "type": "quantitative", "scale": {"domain": [0, 480], "nice": false}, "axis": {"values": [0,50,100,150,200,250,300,350,400,450], "title": "T (μK)"}}},
   "layer": [
    {"transform": [{"filter": "datum.s == '30' || datum.s == '90' || datum.s == '240' || datum.s == '670'"}], "mark": {"type": "line", "strokeWidth": 1, "color": "#1f8f2a"}, "encoding": {"strokeDash": {"field": "s", "type": "nominal", "scale": {"domain": ["30","90","240","670"], "range": [[1,0],[1.5,1.5],[4,3],[5,2,1.5,2]]}}}},
    {"transform": [{"filter": "datum.s == 'fit'"}], "mark": {"type": "line", "strokeWidth": 1.5}, "encoding": {"stroke": {"datum": "best fit(140 pW)", "type": "nominal", "scale": {"range": ["#20c8c8"]}, "legend": {"orient": "none", "legendX": 59, "legendY": 15.5, "title": null, "strokeColor": "#222", "fillColor": "white", "padding": 3, "symbolType": "stroke", "symbolSize": 256, "symbolStrokeWidth": 1.5, "labelFontSize": 14, "labelColor": "black", "labelOffset": 2}}}},
    {"transform": [{"filter": "datum.s == 'NS'"}], "mark": {"type": "line", "strokeWidth": 3.5, "color": "#1c1cee"}},
    {"transform": [{"filter": "datum.s == 'L' && !datum.o"}], "mark": {"type": "line", "strokeWidth": 4, "color": "#ee1c1c"}},
    {"transform": [{"filter": "datum.s == 'L'"}], "mark": {"type": "point", "filled": true, "size": 14, "opacity": 1}, "encoding": {"color": {"field": "s", "type": "nominal", "scale": {"domain": ["L","NS"], "range": ["#ee1c1c","#1c1cee"]}}}}
   ]},
  {"encoding": {
    "x": {"field": "t", "type": "quantitative", "scale": {"domain": [17.5, 18.5], "range": [173.4, 257.7], "nice": false, "zero": false}, "axis": {"orient": "bottom", "offset": -35.5, "values": [17.5,18,18.5], "title": "t (h)", "labelFontSize": 13, "titleFontSize": 15, "tickSize": -3, "labelPadding": 5, "titlePadding": 1}},
    "y": {"field": "T", "type": "quantitative", "scale": {"domain": [0, 215], "range": [188.5, 120.2], "nice": false}, "axis": {"orient": "left", "offset": -173.4, "values": [0,100,200], "title": "ṅ₃ (μmol/s)", "labelFontSize": 13, "titleFontSize": 14, "tickSize": -3, "labelPadding": 5, "titlePadding": 3}}},
   "layer": [
    {"data": {"values": [{}]}, "mark": {"type": "rect", "fill": "white", "stroke": "#444", "strokeWidth": 1}, "encoding": {"x": {"datum": 17.5}, "x2": {"datum": 18.5}, "y": {"datum": 0}, "y2": {"datum": 215}}},
    {"transform": [{"filter": "datum.s == 'n'"}], "mark": {"type": "line", "color": "#f97b2f", "strokeWidth": 1.2}}
   ]}
 ]
},
{
 "width": 280, "height": 224,
 "title": {"text": ["(f) (720 ± 20) mmol, (17 ± 4) mmol,", "(3020/560 ± 40) mmol, 14/20 pW"], "orient": "bottom", "anchor": "start", "frame": "group", "dx": -8, "offset": 5},
 "data": {"name": "f"},
 "resolve": {"scale": {"x": "independent", "y": "independent"}},
 "layer": [
  {"encoding": {
    "x": {"field": "t", "type": "quantitative", "scale": {"domain": [13.4, 37], "nice": false, "zero": false}, "axis": {"values": [15,20,25,30,35], "title": "t (h)"}},
    "y": {"field": "T", "type": "quantitative", "scale": {"domain": [0, 400], "nice": false}, "axis": {"values": [0,50,100,150,200,250,300,350,400], "title": "T (μK)"}}},
   "layer": [
    {"transform": [{"filter": "datum.s == '30' || datum.s == '90' || datum.s == '240' || datum.s == '670'"}], "mark": {"type": "line", "strokeWidth": 1, "color": "#1f8f2a"}, "encoding": {"strokeDash": {"field": "s", "type": "nominal", "scale": {"domain": ["30","90","240","670"], "range": [[1,0],[1.5,1.5],[4,3],[5,2,1.5,2]]}}}},
    {"transform": [{"filter": "datum.s == 'fit'"}], "mark": {"type": "line", "strokeWidth": 1.5}, "encoding": {"stroke": {"datum": "best fit (620 pW)", "type": "nominal", "scale": {"range": ["#20c8c8"]}, "legend": {"orient": "none", "legendX": 48, "legendY": 19.5, "title": null, "strokeColor": "#222", "fillColor": "white", "padding": 3, "symbolType": "stroke", "symbolSize": 256, "symbolStrokeWidth": 1.5, "labelFontSize": 14, "labelColor": "black", "labelOffset": 2}}}},
    {"transform": [{"filter": "datum.s == 'NS'"}], "mark": {"type": "line", "strokeWidth": 3.5, "color": "#1c1cee"}},
    {"transform": [{"filter": "datum.s == 'L' && !datum.o"}], "mark": {"type": "line", "strokeWidth": 4, "color": "#ee1c1c"}},
    {"transform": [{"filter": "datum.s == 'L'"}], "mark": {"type": "point", "filled": true, "size": 14, "opacity": 1}, "encoding": {"color": {"field": "s", "type": "nominal", "scale": {"domain": ["L","NS"], "range": ["#ee1c1c","#1c1cee"]}}}}
   ]},
  {"encoding": {
    "x": {"field": "t", "type": "quantitative", "scale": {"domain": [15.75, 16.72], "range": [173, 258], "nice": false, "zero": false}, "axis": {"orient": "bottom", "offset": -34.2, "values": [15.8,16.2,16.6], "title": "t (h)", "labelFontSize": 13, "titleFontSize": 15, "tickSize": -3, "labelPadding": 5, "titlePadding": 1}},
    "y": {"field": "T", "type": "quantitative", "scale": {"domain": [0, 380], "range": [189.8, 122.5], "nice": false}, "axis": {"orient": "left", "offset": -173, "values": [0,100,200,300], "title": "ṅ₃ (μmol/s)", "labelFontSize": 13, "titleFontSize": 14, "tickSize": -3, "labelPadding": 5, "titlePadding": 3}}},
   "layer": [
    {"data": {"values": [{}]}, "mark": {"type": "rect", "fill": "white", "stroke": "#444", "strokeWidth": 1}, "encoding": {"x": {"datum": 15.75}, "x2": {"datum": 16.72}, "y": {"datum": 0}, "y2": {"datum": 380}}},
    {"transform": [{"filter": "datum.s == 'n'"}], "mark": {"type": "line", "color": "#f97b2f", "strokeWidth": 1.2}}
   ]}
 ]
}
], "spacing": 74, "bounds": "flush", "resolve": {"scale": {"stroke": "independent"}, "legend": {"stroke": "independent"}}}
]
}
